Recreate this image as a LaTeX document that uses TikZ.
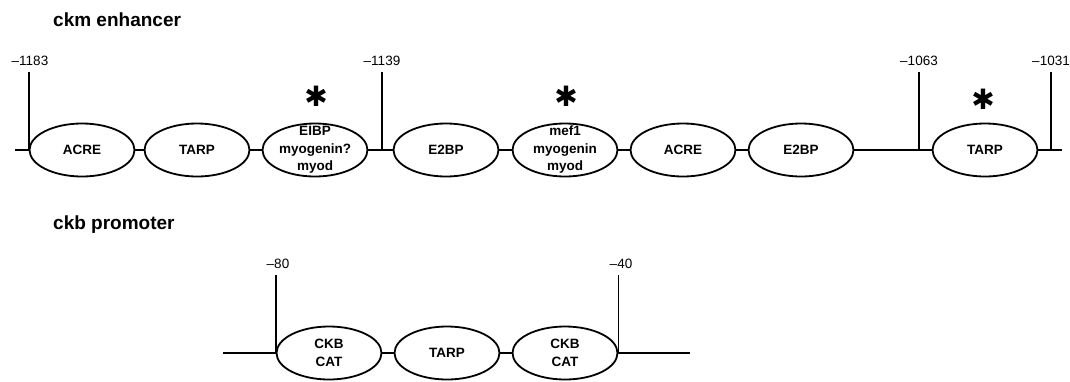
\documentclass[tikz,border=0pt]{standalone}
\usepackage{fontspec}
\setmainfont{Liberation Sans}
\newfontfamily\djv{DejaVu Sans}
\usetikzlibrary{shapes.geometric}
\tikzset{
  elps/.style={draw, line width=1.8pt, ellipse, minimum width=105pt, minimum height=53pt, inner sep=0pt},
  intext/.style={font=\fontsize{13.5}{17.5}\selectfont\bfseries, align=center, inner sep=0pt},
  wire/.style={line width=1.8pt},
  num/.style={font=\fontsize{13.5}{15}\selectfont, inner sep=0pt, anchor=base},
  ttl/.style={font=\fontsize{19}{22}\selectfont\bfseries, inner sep=0pt, anchor=base west},
  star/.style={inner sep=0pt, font=\djv\fontsize{28}{28}\selectfont},
}
\begin{document}
\begin{tikzpicture}[x=1pt,y=-1pt]
\useasboundingbox (0,0) rectangle (1070,381);

% ---------- ckm enhancer ----------
\node[ttl] (t1) at (53,26) {ckm enhancer};

\node[elps,label={[intext]center:ACRE}] (a1) at (82,150) {};
\node[elps,label={[intext]center:TARP}] (tp1) at (197,150) {};
\node[elps,label={[intext]center:{EIBP\\myogenin?\\myod}}] (eibp) at (315,150) {};
\node[elps,label={[intext]center:E2BP}] (e2a) at (446,150) {};
\node[elps,label={[intext]center:{mef1\\myogenin\\myod}}] (mef) at (565,150) {};
\node[elps,label={[intext]center:ACRE}] (a2) at (683,150) {};
\node[elps,label={[intext]center:E2BP}] (e2b) at (801,150) {};
\node[elps,label={[intext]center:TARP}] (tp2) at (985,150) {};

\coordinate (L0) at (15,150);
\coordinate (R0) at (1062,150);
\draw[wire] (L0) -- (a1.west);
\draw[wire] (a1.east) -- (tp1.west);
\draw[wire] (tp1.east) -- (eibp.west);
\draw[wire] (eibp.east) -- (e2a.west);
\draw[wire] (e2a.east) -- (mef.west);
\draw[wire] (mef.east) -- (a2.west);
\draw[wire] (a2.east) -- (e2b.west);
\draw[wire] (e2b.east) -- (tp2.west);
\draw[wire] (tp2.east) -- (R0);

% ticks
\coordinate (k1t) at (32,72);
\coordinate (k2) at (382,150);  \coordinate (k2t) at (382,72);
\coordinate (k3) at (919,150);  \coordinate (k3t) at (919,72);
\coordinate (k4) at (1051,150); \coordinate (k4t) at (1051,72);
\draw[wire] (a1.west) -- (a1.west |- k1t);
\draw[wire] (k2) -- (k2t);
\draw[wire] (k3) -- (k3t);
\draw[wire] (k4) -- (k4t);

\node[num] (n1) at (30,65) {–1183};
\node[num] (n2) at (382,65) {–1139};
\node[num] (n3) at (919,65) {–1063};
\node[num] (n4) at (1051,65) {–1031};

% asterisks
\node[star] (s1) at (316,96) {✱};
\node[star] (s2) at (566,96) {✱};
\node[star] (s3) at (983,99) {✱};

% ---------- ckb promoter ----------
\node[ttl] (t2) at (53,229) {ckb promoter};

\node[elps,label={[intext]center:{CKB\\CAT}}] (c1) at (329,353) {};
\node[elps,label={[intext]center:TARP}] (tp3) at (447,353) {};
\node[elps,label={[intext]center:{CKB\\CAT}}] (c2) at (565,353) {};

\coordinate (B0) at (223,353);
\coordinate (B1) at (690,353);
\draw[wire] (B0) -- (c1.west);
\draw[wire] (c1.east) -- (tp3.west);
\draw[wire] (tp3.east) -- (c2.west);
\draw[wire] (c2.east) -- (B1);

\coordinate (m1t) at (0,275);
\draw[wire] (c1.west) -- (c1.west |- m1t);
\draw[wire] (c2.east) -- (c2.east |- m1t);
\node[num] (n5) at (278,268) {–80};
\node[num] (n6) at (621,268) {–40};
\end{tikzpicture}
\end{document}
